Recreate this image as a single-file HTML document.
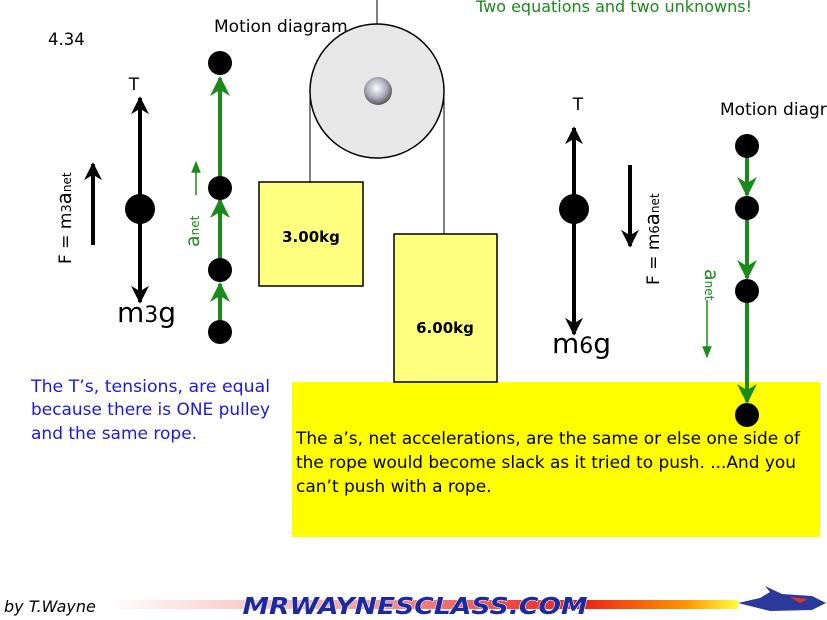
<!DOCTYPE html>
<html><head><meta charset="utf-8"><style>
body{margin:0;background:#fff;width:827px;height:620px;overflow:hidden}
svg{display:block;font-family:"DejaVu Sans","Liberation Sans",sans-serif}
</style></head><body>
<svg width="827" height="620" viewBox="0 0 827 620">
<defs>
<radialGradient id="hub" cx="45%" cy="40%" r="60%"><stop offset="0" stop-color="#fff"/><stop offset="0.6" stop-color="#aaaab8"/><stop offset="1" stop-color="#555"/></radialGradient>
<linearGradient id="bar" x1="0" x2="1"><stop offset="0" stop-color="#fff"/><stop offset="0.4" stop-color="#f4a0a0"/><stop offset="0.75" stop-color="#e8201a"/><stop offset="0.92" stop-color="#ff9900"/><stop offset="1" stop-color="#ffff40"/></linearGradient>
<marker id="bk" viewBox="0 0 10 10" refX="9" refY="5" markerWidth="4.5" markerHeight="4.5" orient="auto"><path d="M0,0L10,5L0,10L3,5Z" fill="#000"/></marker>
<marker id="gr" viewBox="0 0 10 10" refX="9" refY="5" markerWidth="5" markerHeight="5" orient="auto"><path d="M0,0L10,5L0,10L3,5Z" fill="#1a8a1a"/></marker>
<marker id="gs" viewBox="0 0 10 10" refX="9" refY="5" markerWidth="8" markerHeight="8" orient="auto"><path d="M0,1L10,5L0,9Z" fill="#1a8a1a"/></marker>
</defs>
<rect x="292" y="382" width="528" height="155" fill="#ffff00"/>
<line x1="377" y1="0" x2="377" y2="24" stroke="#000"/>
<line x1="310" y1="91" x2="310" y2="182" stroke="#000"/>
<line x1="444" y1="91" x2="444" y2="234" stroke="#000"/>
<circle cx="377" cy="91" r="67" fill="#e8e8e8" stroke="#000" stroke-width="1.5"/>
<circle cx="378" cy="91" r="14" fill="url(#hub)"/>
<rect x="259" y="182" width="104" height="104" fill="#ffff80" stroke="#000" stroke-width="1.5"/>
<text x="311" y="242" font-size="15" font-weight="bold" text-anchor="middle">3.00kg</text>
<rect x="394" y="234" width="103" height="148" fill="#ffff80" stroke="#000" stroke-width="1.5"/>
<text x="445" y="333" font-size="15" font-weight="bold" text-anchor="middle">6.00kg</text>
<text x="48" y="45" font-size="16.5">4.34</text>
<text x="214" y="32" font-size="17">Motion diagram</text>
<text x="476" y="12" font-size="16" fill="#1a8a1a">Two equations and two unknowns!</text>
<text x="720" y="115" font-size="17">Motion diagr</text>
<line x1="140" y1="209" x2="140" y2="98" stroke="#000" stroke-width="4" marker-end="url(#bk)"/>
<line x1="140" y1="209" x2="140" y2="302" stroke="#000" stroke-width="4" marker-end="url(#bk)"/>
<circle cx="140" cy="209" r="15" fill="#000"/>
<text x="134" y="90" font-size="17" text-anchor="middle">T</text>
<text x="117" y="322" font-size="28">m<tspan font-size="22">3</tspan>g</text>
<line x1="93" y1="245" x2="93" y2="164" stroke="#000" stroke-width="4" marker-end="url(#bk)"/>
<text transform="translate(71,264) rotate(-90)" font-size="17">F = m<tspan font-size="13">3</tspan><tspan font-size="20">a</tspan><tspan font-size="12">net</tspan></text>
<line x1="220" y1="332" x2="220" y2="284" stroke="#1a8a1a" stroke-width="4" marker-end="url(#gr)"/>
<line x1="220" y1="270" x2="220" y2="200" stroke="#1a8a1a" stroke-width="4" marker-end="url(#gr)"/>
<line x1="220" y1="188" x2="220" y2="78" stroke="#1a8a1a" stroke-width="4" marker-end="url(#gr)"/>
<circle cx="220" cy="63" r="12" fill="#000"/><circle cx="220" cy="188" r="12" fill="#000"/>
<circle cx="220" cy="270" r="12" fill="#000"/><circle cx="220" cy="332" r="12" fill="#000"/>
<line x1="196" y1="195" x2="196" y2="162" stroke="#1a8a1a" stroke-width="1.5" marker-end="url(#gs)"/>
<text transform="translate(199,247) rotate(-90)" font-size="19" fill="#1a8a1a">a<tspan font-size="12">net</tspan></text>
<line x1="574" y1="209" x2="574" y2="128" stroke="#000" stroke-width="4" marker-end="url(#bk)"/>
<line x1="574" y1="209" x2="574" y2="334" stroke="#000" stroke-width="4" marker-end="url(#bk)"/>
<circle cx="574" cy="209" r="15" fill="#000"/>
<text x="578" y="110" font-size="17" text-anchor="middle">T</text>
<text x="552" y="353" font-size="28">m<tspan font-size="22">6</tspan>g</text>
<line x1="630" y1="165" x2="630" y2="246" stroke="#000" stroke-width="4" marker-end="url(#bk)"/>
<text transform="translate(659,285) rotate(-90)" font-size="17">F = m<tspan font-size="13">6</tspan><tspan font-size="20">a</tspan><tspan font-size="12">net</tspan></text>
<line x1="747" y1="146" x2="747" y2="195" stroke="#1a8a1a" stroke-width="4" marker-end="url(#gr)"/>
<line x1="747" y1="208" x2="747" y2="278" stroke="#1a8a1a" stroke-width="4" marker-end="url(#gr)"/>
<line x1="747" y1="291" x2="747" y2="402" stroke="#1a8a1a" stroke-width="4" marker-end="url(#gr)"/>
<circle cx="747" cy="146" r="12" fill="#000"/><circle cx="747" cy="208" r="12" fill="#000"/>
<circle cx="747" cy="291" r="12" fill="#000"/><circle cx="747" cy="415" r="12" fill="#000"/>
<line x1="707" y1="300" x2="707" y2="357" stroke="#1a8a1a" stroke-width="1.5" marker-end="url(#gs)"/>
<text transform="translate(705,269) rotate(90)" font-size="19" fill="#1a8a1a">a<tspan font-size="12">net</tspan></text>
<g font-size="17" fill="#1a1adc">
<text x="31" y="392" textLength="239" lengthAdjust="spacingAndGlyphs">The T’s, tensions, are equal</text>
<text x="31" y="415" textLength="239" lengthAdjust="spacingAndGlyphs">because there is ONE pulley</text>
<text x="31" y="439">and the same rope.</text>
</g>
<g font-size="17" fill="#000">
<text x="296" y="444" textLength="504" lengthAdjust="spacingAndGlyphs">The a’s, net accelerations, are the same or else one side of</text>
<text x="296" y="468" textLength="500" lengthAdjust="spacingAndGlyphs">the rope would become slack as it tried to push. ...And you</text>
<text x="296" y="492">can’t push with a rope.</text>
</g>
<text x="4" y="612" font-size="16" font-style="italic">by T.Wayne</text>
<rect x="108" y="600" width="630" height="9" fill="url(#bar)"/>
<text x="415" y="614" font-size="23" font-weight="bold" font-style="italic" text-anchor="middle" fill="#1a2aa0" stroke="#fff" stroke-width="1" paint-order="stroke" textLength="345" lengthAdjust="spacingAndGlyphs">MRWAYNESCLASS.COM</text>
<path d="M738,603 L760,598 L770,592 L765,586 L782,594 L812,596 L826,603 L812,610 L770,611 Z" fill="#2a3a9a"/>
<path d="M790,597 L808,599 L800,603Z" fill="#e03030"/>
</svg>
</body></html>
